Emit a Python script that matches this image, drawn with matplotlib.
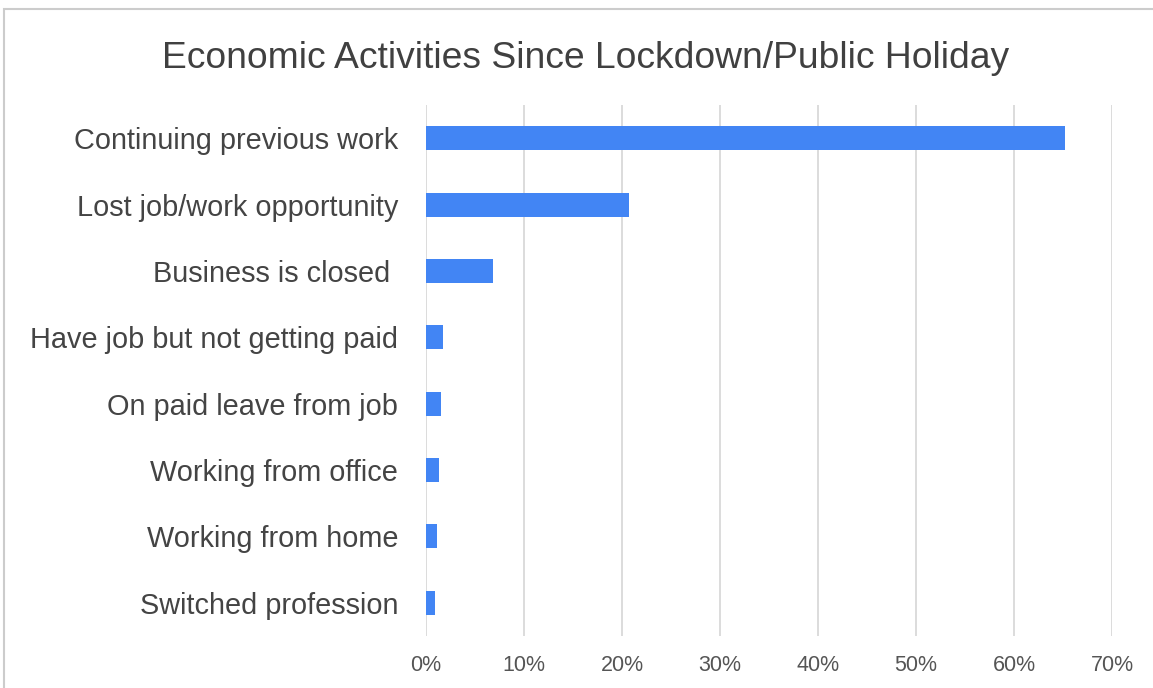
import matplotlib.pyplot as plt
from matplotlib.patches import Rectangle

categories = [
    "Continuing previous work",
    "Lost job/work opportunity",
    "Business is closed ",
    "Have job but not getting paid",
    "On paid leave from job",
    "Working from office",
    "Working from home",
    "Switched profession",
]
values = [65.2, 20.7, 6.8, 1.7, 1.5, 1.3, 1.1, 0.9]
ticks = [0, 10, 20, 30, 40, 50, 60, 70]
tick_labels = [f"{t}%" for t in ticks]

plt.rcParams['font.family'] = ['Liberation Sans', 'DejaVu Sans']

W, H = 1153, 688
fig = plt.figure(figsize=(W / 100, H / 100), dpi=100)
ax = fig.add_axes([426 / W, 1 - 636 / H, (1112 - 426) / W, (636 - 105) / H])

y = list(range(len(categories)))
ax.barh(y, values, height=0.36, color='#4285f4', zorder=3)
ax.set_ylim(len(categories) - 0.5, -0.5)
ax.set_xlim(0, 70)
ax.set_xticks(ticks)
ax.set_xticklabels(tick_labels, fontsize=15.5, color='#555555')
ax.set_yticks(y)
ax.set_yticklabels(categories, fontsize=20.8, color='#444444')
ax.tick_params(axis='both', length=0)
ax.tick_params(axis='x', pad=14)
ax.tick_params(axis='y', pad=20)
ax.grid(axis='x', color='#d9d9d9', linewidth=1.3, zorder=0)
for s in ax.spines.values():
    s.set_visible(False)

fig.text(586 / W, 1 - 58 / H, "Economic Activities Since Lockdown/Public Holiday",
         ha='center', va='center', fontsize=26.8, color='#404040')

fig.patches.append(Rectangle((4 / W, -0.1), 1.2, 1 - 9 / H + 0.1,
                             transform=fig.transFigure, fill=False,
                             edgecolor='#cccccc', linewidth=1.5))

fig.savefig('out.png', dpi=100)
